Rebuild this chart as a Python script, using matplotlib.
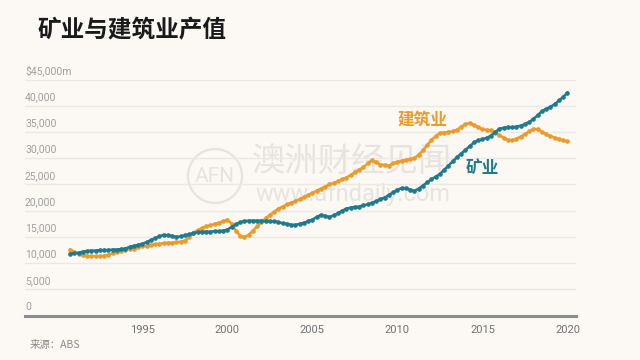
import numpy as np
import matplotlib
matplotlib.use("Agg")
import matplotlib.pyplot as plt
from matplotlib.patches import Circle
import matplotlib.transforms as mtransforms

plt.rcParams['font.family'] = ['Noto Sans CJK SC', 'DejaVu Sans']

title = "矿业与建筑业产值"
source = "来源：ABS"
label_construction = "建筑业"
label_mining = "矿业"

start_year = 1990.75  # first quarter plotted

mining = [
    11800,
    11900, 12000, 12200, 12300,
    12400, 12400, 12500, 12500,
    12500, 12600, 12600, 12700,
    12800, 13100, 13300, 13500,
    13700, 14000, 14400, 14800,
    15100, 15400, 15300, 15200,
    15000, 15100, 15300, 15500,
    15700, 15900, 16000, 16000,
    16000, 16100, 16100, 16200,
    16400, 16900, 17400, 17800,
    18000, 18100, 18100, 18100,
    18100, 18000, 18000, 18000,
    17800, 17600, 17500, 17300,
    17300, 17500, 17700, 18000,
    18300, 18800, 19200, 19000,
    18800, 19100, 19500, 20000,
    20400, 20600, 20700, 20800,
    21000, 21200, 21500, 21800,
    22200, 22500, 23000, 23500,
    24000, 24300, 24300, 24000,
    23800, 24200, 24800, 25400,
    26000, 26500, 27000, 27800,
    28600, 29400, 30200, 30900,
    31600, 32300, 33000, 33400,
    33600, 33900, 34300, 35000,
    35600, 35800, 35900, 35900,
    36000, 36200, 36500, 36900,
    37500, 38200, 39000, 39400,
    39800, 40300, 41000, 41700,
    42500,
]

construction = [
    12600,
    12100, 11800, 11500, 11400,
    11300, 11300, 11300, 11400,
    11600, 11900, 12100, 12300,
    12500, 12700, 12800, 13000,
    13200, 13300, 13500, 13600,
    13700, 13800, 13900, 13900,
    14000, 14100, 14300, 15000,
    15800, 16300, 16700, 17000,
    17200, 17500, 17700, 18000,
    18300, 17500, 16200, 15200,
    15000, 15400, 16200, 17000,
    17800, 18600, 19200, 19800,
    20400, 20800, 21200, 21500,
    21800, 22200, 22600, 23000,
    23400, 23800, 24200, 24600,
    25000, 25300, 25600, 26000,
    26300, 26800, 27300, 27800,
    28300, 29000, 29600, 29200,
    28800, 28700, 28600, 29000,
    29300, 29500, 29700, 29800,
    30000, 30700, 31500, 32500,
    33500, 34200, 34800, 34900,
    35000, 35100, 35400, 36000,
    36500, 36700, 36300, 35900,
    35500, 35400, 35300, 34900,
    34400, 33900, 33500, 33400,
    33700, 34100, 34600, 35100,
    35600, 35500, 35000, 34600,
    34200, 33900, 33600, 33400,
    33200,
]

x_ticks = [1995, 2000, 2005, 2010, 2015, 2020]
y_ticks = [0, 5000, 10000, 15000, 20000, 25000, 30000, 35000, 40000, 45000]
y_labels = ["0", "5,000", "10,000", "15,000", "20,000", "25,000",
            "30,000", "35,000", "40,000", "$45,000m"]

BG = "#FCF8F3"
ORANGE = "#EB9A2C"
TEAL = "#1E7A8E"

quarters = start_year + 0.25 * np.arange(len(mining))

fig = plt.figure(figsize=(6.4, 3.6), dpi=100, facecolor=BG)
ax = fig.add_axes([25 / 640, (360 - 315.7) / 360, 551 / 640, (315.7 - 79.5) / 360])
ax.patch.set_alpha(0)
ax.set_xlim(1988.1, 2020.5)
ax.set_ylim(0, 45000)
for s in ax.spines.values():
    s.set_visible(False)
ax.set_yticks([])
ax.set_xticks(x_ticks)
ax.set_xticklabels([str(t) for t in x_ticks], fontsize=8, color="#707070",
                   family=['Roboto', 'DejaVu Sans'])
ax.tick_params(axis='x', length=0, pad=7)

trans = mtransforms.blended_transform_factory(ax.transAxes, ax.transData)
for v, lab in zip(y_ticks, y_labels):
    if v == 0:
        ax.axhline(0, color="#8C8C8C", lw=2.2, zorder=2, clip_on=False)
    else:
        ax.axhline(v, color="#ECE8E3", lw=1.0, zorder=1)
    ax.text(0.0, v + 700, lab, transform=trans, ha='left', va='bottom',
            fontsize=7.5, color="#A0A0A0", family=['Roboto', 'DejaVu Sans'])

# watermark (drawn beneath the axes content)
wm_color = "#E7E3DE"
circ = Circle((215, 360 - 176), 27, transform=None, fill=False, ec=wm_color, lw=1.6, zorder=-2)
fig.patches.append(circ)
fig.text(215 / 640, 1 - 176 / 360, "AFN", ha='center', va='center', fontsize=15,
         color=wm_color, family=['Roboto', 'DejaVu Sans'], zorder=-2)
fig.text(252 / 640, 1 - 162 / 360, "澳洲财经见闻", ha='left', va='center', fontsize=24,
         color=wm_color, zorder=-2)
fig.text(255 / 640, 1 - 195 / 360, "www.afndaily.com", ha='left', va='center', fontsize=17,
         color=wm_color, family=['Roboto', 'DejaVu Sans'], zorder=-2)

ax.plot(quarters, construction, color=ORANGE, lw=1.8, marker='o', ms=2.3, zorder=3)
ax.plot(quarters, mining, color=TEAL, lw=1.8, marker='o', ms=2.3, zorder=4)

fig.text(398 / 640, 1 - 120 / 360, label_construction, ha='left', va='center',
         fontsize=12, color=ORANGE, fontweight='bold')
fig.text(466 / 640, 1 - 168 / 360, label_mining, ha='left', va='center',
         fontsize=12, color=TEAL, fontweight='bold')

fig.text(37 / 640, 1 - 30 / 360, title, ha='left', va='center', fontsize=17,
         fontweight='bold', color="#1A1A1A")
fig.text(30 / 640, 1 - 345 / 360, source, ha='left', va='center', fontsize=7.5,
         color="#8A8A8A")

fig.savefig("out.png", dpi=100, facecolor=BG)
